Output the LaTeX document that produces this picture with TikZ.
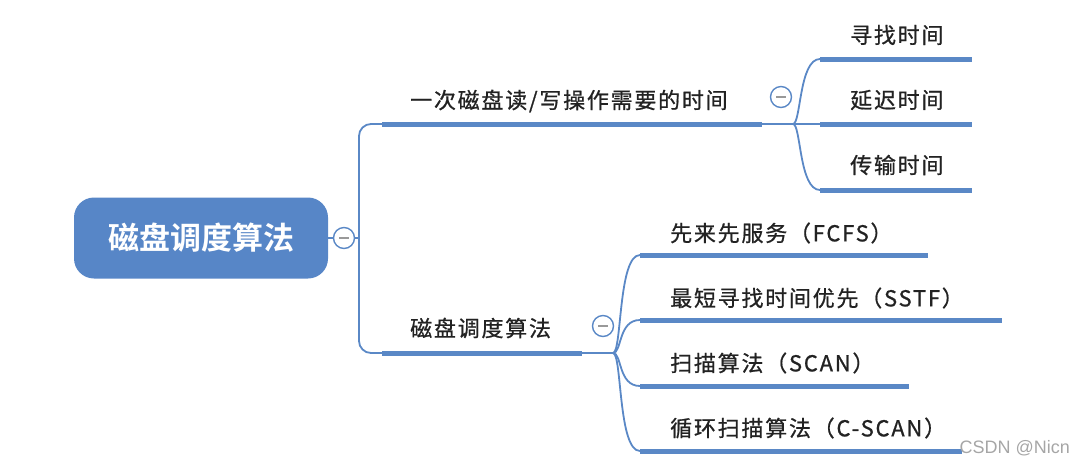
\documentclass[tikz,border=0pt]{standalone}
\usepackage{fontspec}
\newfontfamily\cjk[LetterSpace=8,FakeBold=0.8]{Noto Sans CJK SC}
\newfontfamily\cjkbold{Noto Sans CJK SC Bold}
\setsansfont{Liberation Sans}
\definecolor{mmblue}{HTML}{5A88C6}
\definecolor{rootblue}{HTML}{5786C7}
\definecolor{mmtext}{HTML}{222222}
\tikzset{
  topic/.style={anchor=west,inner sep=0pt,text=mmtext,font=\cjk\fontsize{22}{26}\selectfont},
  bar/.style={mmblue,line width=5pt},
  link/.style={mmblue,line width=1.8pt},
  fold/.style={circle,draw=mmblue,line width=1.4pt,fill=white,minimum size=21pt,inner sep=0pt,
    path picture={\draw[gray!80,line width=1.5pt]
      ([xshift=-5pt]path picture bounding box.center) -- ([xshift=5pt]path picture bounding box.center);}}
}
\begin{document}
\begin{tikzpicture}[x=1pt,y=-1pt]
  \useasboundingbox (0,0) rectangle (1074,467);
  % root
  \node[fill=rootblue,rounded corners=20pt,minimum width=254pt,minimum height=81pt,
        text=white,font=\cjkbold\fontsize{31}{35}\selectfont] (root) at (201,238) {磁盘调度算法};
  \node[fold] (rootfold) at (344,238) {};
  \coordinate (trunk) at (359,238);
  % first level
  \node[topic] (once) at (410,101) {一次磁盘读/写操作需要的时间};
  \node[topic] (algo) at (410,328) {磁盘调度算法};
  \coordinate (once-l) at (382,124);
  \coordinate (once-r) at (762,124);
  \coordinate (once-s) at (793,124);
  \coordinate (algo-l) at (382,353);
  \coordinate (algo-r) at (582,353);
  \coordinate (algo-s) at (613,353);
  \draw[link] (root.east) -- (rootfold.west);
  \draw[link] (rootfold.east) -- (trunk);
  \draw[link,rounded corners=12pt] (once-l) -| (trunk) |- (algo-l);
  \draw[bar] (once-l) -- (once-r);
  \draw[bar] (algo-l) -- (algo-r);
  \draw[link] (once-r) -- (once-s);
  \draw[link] (algo-r) -- (algo-s);
  \node[fold] (oncefold) at (781,97) {};
  \node[fold] (algofold) at (603,326) {};
  % time parts
  \node[topic] (seek) at (850,35) {寻找时间};
  \node[topic] (delay) at (850,100) {延迟时间};
  \node[topic] (trans) at (850,165) {传输时间};
  \coordinate (seek-l) at (820,59);   \coordinate (seek-r) at (972,59);
  \coordinate (delay-l) at (820,124); \coordinate (delay-r) at (972,124);
  \coordinate (trans-l) at (820,190); \coordinate (trans-r) at (972,190);
  \draw[bar] (seek-l) -- (seek-r);
  \draw[bar] (delay-l) -- (delay-r);
  \draw[bar] (trans-l) -- (trans-r);
  \draw[link] (once-s) .. controls (801,124) and (799,59) .. (seek-l);
  \draw[link] (once-s) -- (delay-l);
  \draw[link] (once-s) .. controls (801,124) and (799,190) .. (trans-l);
  % algorithms
  \node[topic] (fcfs) at (670,233) {先来先服务（FCFS）};
  \node[topic] (sstf) at (670,298) {最短寻找时间优先（SSTF）};
  \node[topic] (scan) at (670,363) {扫描算法（SCAN）};
  \node[topic] (cscan) at (670,428) {循环扫描算法（C-SCAN）};
  \coordinate (fcfs-l) at (640,255);  \coordinate (fcfs-r) at (928,255);
  \coordinate (sstf-l) at (640,320);  \coordinate (sstf-r) at (1002,320);
  \coordinate (scan-l) at (640,386);  \coordinate (scan-r) at (909,386);
  \coordinate (cscan-l) at (640,451); \coordinate (cscan-r) at (962,451);
  \draw[bar] (fcfs-l) -- (fcfs-r);
  \draw[bar] (sstf-l) -- (sstf-r);
  \draw[bar] (scan-l) -- (scan-r);
  \draw[bar] (cscan-l) -- (cscan-r);
  \draw[link] (algo-s) .. controls (622,353) and (618,255) .. (fcfs-l);
  \draw[link] (algo-s) .. controls (622,353) and (618,320) .. (sstf-l);
  \draw[link] (algo-s) .. controls (622,353) and (618,386) .. (scan-l);
  \draw[link] (algo-s) .. controls (622,353) and (618,451) .. (cscan-l);
  % watermark
  \node[anchor=east,inner sep=0pt,text=gray!70,font=\sffamily\fontsize{18}{20}\selectfont] (mark) at (1070,448) {CSDN @Nicn};
\end{tikzpicture}
\end{document}
